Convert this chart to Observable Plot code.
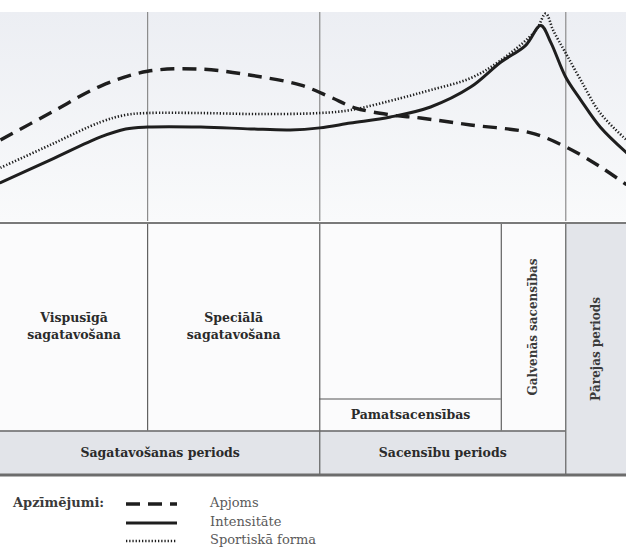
<!DOCTYPE html>
<html><head><meta charset="utf-8">
<script src="https://cdn.jsdelivr.net/npm/d3@7"></script>
<script src="https://cdn.jsdelivr.net/npm/@observablehq/plot@0.6"></script>
<style>
body{margin:0;background:#fff;}
#wrap{width:626px;position:relative;}
#wrap svg{display:block;}
#legend{position:relative;height:72px;font-family:"DejaVu Serif",serif;}
#legend .ttl{position:absolute;left:13px;font-weight:bold;font-size:13px;color:#3a3a3a;}
#legend .lab{position:absolute;left:210px;font-size:13px;color:#5a5a5a;}
#legend svg{position:absolute;left:0;top:0;}
</style></head><body><div id="wrap"></div>
<script>
// Season position (% of annual cycle) and relative level (%)
const apjomsT = [0, 8, 16, 23.5, 32, 40, 48, 52.7, 56.7, 62.3, 67.1, 75.1, 84.7, 90.3, 95.8, 100];
const apjomsV = [39, 52, 64.8, 71.9, 72.9, 70, 65.2, 59.5, 54.3, 51, 49.5, 46.2, 42.4, 35.7, 26.2, 17.6];
const intensT = [0, 8, 16, 20, 23.5, 32, 40, 46.3, 51, 55.9, 62.3, 68.7, 75.1, 79.9, 83.9, 86.3, 87.9, 90.3, 92.7, 95.8, 100];
const intensV = [18.6, 29.5, 40.5, 44.3, 45.2, 45.2, 44.3, 43.8, 44.8, 47.1, 50, 54.8, 64.3, 76.2, 84.3, 93.8, 85.7, 69, 58.1, 45.2, 32.9];
const formaT = [0, 8, 16, 20, 23.5, 32, 41.5, 51, 55.9, 63.9, 68.7, 75.1, 79.9, 85.5, 87.1, 88.3, 90.3, 92.7, 95.8, 100];
const formaV = [25.7, 36.7, 47.6, 51, 51.9, 51.9, 51.4, 51.9, 53.3, 59, 62.9, 68.6, 77.1, 91.4, 99.5, 91.4, 80.5, 67.6, 51.9, 39];

// Period boundaries (% of cycle)
const stageNames = ["Vispusīgā\nsagatavošana", "Speciālā\nsagatavošana", "Pamatsacensības", "Galvenās sacensības", "Pārejas periods"];
const stageStart = [0, 23.5, 51, 80, 90.3];
const stageEnd   = [23.5, 51, 80, 90.3, 100];
const periodNames = ["Sagatavošanas periods", "Sacensību periods"];
const periodStart = [0, 51];
const periodEnd   = [51, 90.3];

const legendTitle = "Apzīmējumi:";
const seriesNames = ["Apjoms", "Intensitāte", "Sportiskā forma"];

const toRows = (T, V) => T.map((t, i) => ({t, v: V[i]}));
const apjoms = toRows(apjomsT, apjomsV);
const intens = toRows(intensT, intensV);
const forma = toRows(formaT, formaV);

const FONT = "DejaVu Serif";
const ink = "#1e1e1e";
const DASH = "14,8", DOT = "1.3,1.9";

// ---------- top: curves ----------
const topPlot = Plot.plot({
  width: 626, height: 221,
  marginTop: 12, marginBottom: 0, marginLeft: 0, marginRight: 0,
  x: {domain: [0, 100], axis: null},
  y: {domain: [0, 100], axis: null},
  style: {background: "transparent", overflow: "visible"},
  marks: [
    Plot.rect([0], {x1: 0, x2: 100, y1: 0, y2: 100, fill: "url(#topbg)"}),
    Plot.ruleX([stageEnd[0], stageEnd[1], stageEnd[3]], {stroke: "#8c8c8c", strokeWidth: 1.2}),
    Plot.line(apjoms, {x: "t", y: "v", curve: "catmull-rom", stroke: ink, strokeWidth: 3.4, strokeDasharray: DASH, strokeLinecap: "butt"}),
    Plot.line(forma, {x: "t", y: "v", curve: "catmull-rom", stroke: ink, strokeWidth: 2.6, strokeDasharray: DOT, strokeLinecap: "butt"}),
    Plot.line(intens, {x: "t", y: "v", curve: "catmull-rom", stroke: ink, strokeWidth: 3})
  ]
});
{
  const defs = d3.select(topPlot).insert("defs", ":first-child");
  const g = defs.append("linearGradient").attr("id", "topbg").attr("x1", 0).attr("y1", 0).attr("x2", 0).attr("y2", 1);
  g.append("stop").attr("offset", "0%").attr("stop-color", "#eceef3");
  g.append("stop").attr("offset", "100%").attr("stop-color", "#f9fafb");
}

// ---------- bottom: table of periods ----------
const rowsBottom = 208, bandBottom = 252, subTop = 176;
const stageRows = stageNames.map((name, i) => ({name, x1: stageStart[i], x2: stageEnd[i]}));
const periodRows = periodNames.map((name, i) => ({name, x1: periodStart[i], x2: periodEnd[i]}));

const tablePlot = Plot.plot({
  width: 626, height: 257,
  marginTop: 0, marginBottom: 0, marginLeft: 0, marginRight: 0,
  x: {domain: [0, 100], axis: null},
  y: {domain: [0, 257], range: [1.5, 258.5], axis: null},
  style: {background: "transparent", overflow: "visible"},
  marks: [
    Plot.rect([0], {x1: 0, x2: 100, y1: 0, y2: bandBottom, fill: "#fbfbfc"}),
    Plot.rect(periodRows, {x1: "x1", x2: "x2", y1: rowsBottom, y2: bandBottom, fill: "#e2e4e9"}),
    Plot.rect([stageRows[4]], {x1: "x1", x2: "x2", y1: 0, y2: bandBottom, fill: "#e3e5ea"}),
    // grid lines
    Plot.ruleX([stageStart[1], stageStart[3]], {y1: 0, y2: rowsBottom, stroke: "#606060", strokeWidth: 1.2}),
    Plot.ruleX([stageStart[2], stageStart[4]], {y1: 0, y2: bandBottom, stroke: "#606060", strokeWidth: 1.2}),
    Plot.ruleY([subTop], {x1: stageStart[2], x2: stageEnd[2], stroke: "#555", strokeWidth: 1.2}),
    Plot.ruleY([rowsBottom], {x1: 0, x2: stageStart[4], stroke: "#666", strokeWidth: 1.6}),
    Plot.ruleY([0], {x1: 0, x2: 100, stroke: "#7a7a7a", strokeWidth: 2}),
    Plot.ruleY([bandBottom], {x1: 0, x2: 100, stroke: "#6c6c6c", strokeWidth: 3.2}),
    // labels
    Plot.text(stageRows.slice(0, 2), {x: d => (d.x1 + d.x2) / 2, y: rowsBottom / 2 - 2, text: "name",
      fontFamily: FONT, fontWeight: "bold", fontSize: 12.5, fill: "#2b2b2b", lineHeight: 1.4}),
    Plot.text([stageRows[2]], {x: d => (d.x1 + d.x2) / 2, y: (subTop + rowsBottom) / 2, text: "name",
      fontFamily: FONT, fontWeight: "bold", fontSize: 12.5, fill: "#2b2b2b"}),
    Plot.text([stageRows[3]], {x: d => (d.x1 + d.x2) / 2, y: rowsBottom / 2, text: "name", rotate: -90,
      fontFamily: FONT, fontWeight: "bold", fontSize: 12, fill: "#3a3a3a"}),
    Plot.text([stageRows[4]], {x: d => (d.x1 + d.x2) / 2, y: bandBottom / 2, text: "name", rotate: -90,
      fontFamily: FONT, fontWeight: "bold", fontSize: 12, fill: "#3a3a3a"}),
    Plot.text(periodRows, {x: d => (d.x1 + d.x2) / 2, y: (rowsBottom + bandBottom) / 2, text: "name",
      fontFamily: FONT, fontWeight: "bold", fontSize: 12.5, fill: "#2b2b2b"})
  ]
});

const wrap = document.getElementById("wrap");
wrap.appendChild(topPlot);
wrap.appendChild(tablePlot);

// ---------- legend ----------
const leg = document.createElement("div");
leg.id = "legend";
const rowY = [26, 45, 63];
const styles = [
  {w: 3.4, dash: DASH},
  {w: 3.2, dash: null},
  {w: 2.4, dash: DOT}
];
let svgL = `<svg width="626" height="72">`;
styles.forEach((s, i) => {
  svgL += `<line x1="126" x2="177" y1="${rowY[i]}" y2="${rowY[i]}" stroke="${ink}" stroke-width="${s.w}" ${s.dash ? `stroke-dasharray="${s.dash}"` : ""}/>`;
});
svgL += `</svg>`;
leg.innerHTML = svgL + `<div class="ttl" style="top:${rowY[0] - 9}px">${legendTitle}</div>` +
  seriesNames.map((n, i) => `<div class="lab" style="top:${rowY[i] - 9}px">${n}</div>`).join("");
wrap.appendChild(leg);
</script>
</body></html>
